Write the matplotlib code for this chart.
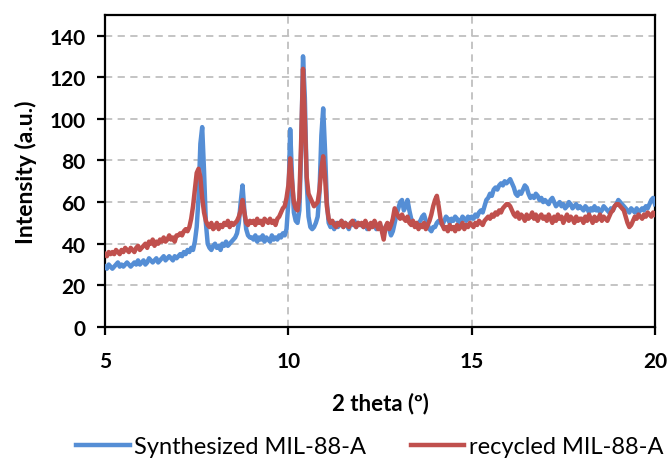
import numpy as np
import matplotlib
matplotlib.use('Agg')
import matplotlib.pyplot as plt

# 2 theta axis, 0.05 step from 5 to 20
two_theta = np.round(np.arange(5.0, 20.0001, 0.05), 2)

# Synthesized MIL-88-A intensity (a.u.)
synth = [
    29, 28, 30, 29, 28, 29, 30, 31, 29, 30, 29, 30, 31, 30, 29, 30, 31, 30, 32, 30,   # 5
    31, 32, 30, 31, 33, 32, 31, 32, 33, 31, 32, 33, 34, 32, 33, 34, 33, 32, 34, 33,   # 6
    34, 35, 34, 36, 35, 37, 36, 38, 37, 41, 48, 62, 88, 96, 75, 50, 40, 38, 37, 39,   # 7
    40, 38, 39, 37, 40, 39, 41, 39, 40, 41, 42, 43, 45, 50, 60, 68, 56, 47, 44, 43,   # 8
    43, 42, 44, 41, 43, 42, 44, 41, 43, 42, 41, 44, 42, 43, 42, 44, 43, 45, 44, 47,   # 9
    60, 95, 72, 55, 51, 50, 56, 85, 130, 110, 70, 53, 48, 47, 48, 50, 53, 65, 92, 105,  # 10
    85, 60, 50, 48, 49, 47, 50, 48, 49, 51, 48, 50, 49, 47, 50, 49, 51, 48, 50, 49,   # 11
    49, 48, 50, 47, 49, 48, 50, 49, 47, 48, 49, 47, 45, 48, 49, 47, 44, 46, 50, 54,   # 12
    57, 60, 61, 56, 58, 61, 56, 52, 50, 49, 48, 50, 51, 53, 54, 51, 49, 47, 46, 48,   # 13
    48, 50, 51, 50, 49, 51, 53, 52, 50, 52, 51, 53, 52, 50, 51, 53, 52, 51, 53, 52,   # 14
    53, 52, 54, 53, 55, 56, 55, 58, 61, 62, 64, 63, 66, 67, 66, 68, 69, 68, 70, 69,   # 15
    70, 71, 69, 67, 64, 63, 65, 64, 66, 68, 67, 64, 62, 63, 62, 64, 63, 61, 62, 60,   # 16
    61, 60, 59, 61, 62, 60, 58, 59, 60, 58, 59, 57, 58, 60, 59, 57, 58, 59, 57, 58,   # 17
    57, 56, 58, 57, 55, 57, 56, 58, 56, 57, 55, 56, 58, 57, 56, 55, 57, 56, 58, 59,   # 18
    61, 60, 59, 58, 57, 56, 55, 57, 56, 55, 57, 55, 56, 57, 56, 58, 57, 59, 61, 62, 59,  # 19-20
]

# recycled MIL-88-A intensity (a.u.)
recyc = [
    35, 34, 36, 35, 36, 35, 37, 36, 35, 37, 36, 38, 37, 36, 38, 37, 36, 38, 39, 37,   # 5
    38, 39, 40, 38, 41, 40, 42, 39, 41, 40, 42, 41, 43, 41, 42, 44, 42, 43, 41, 44,   # 6
    44, 45, 44, 46, 47, 46, 48, 52, 58, 66, 74, 76, 72, 62, 55, 51, 49, 48, 50, 47,   # 7
    48, 50, 47, 49, 48, 50, 49, 51, 48, 50, 49, 50, 51, 53, 56, 61, 55, 50, 49, 51,   # 8
    50, 51, 49, 52, 50, 51, 49, 52, 51, 50, 52, 50, 51, 49, 52, 53, 55, 57, 58, 62,   # 9
    68, 81, 70, 60, 57, 56, 62, 90, 124, 100, 72, 64, 62, 60, 58, 59, 60, 66, 76, 82,  # 10
    72, 58, 52, 50, 51, 49, 48, 50, 49, 51, 48, 50, 49, 48, 50, 51, 49, 48, 50, 49,   # 11
    50, 48, 51, 49, 47, 50, 48, 51, 49, 47, 50, 46, 42, 48, 50, 47, 49, 52, 57, 55,   # 12
    53, 52, 54, 52, 51, 53, 50, 49, 51, 48, 50, 47, 49, 48, 50, 47, 49, 51, 54, 58,   # 13
    61, 63, 58, 52, 49, 47, 48, 46, 49, 47, 48, 46, 49, 47, 48, 50, 47, 49, 48, 50,   # 14
    49, 48, 50, 49, 51, 50, 49, 51, 52, 53, 52, 54, 53, 55, 54, 56, 55, 57, 58, 59,   # 15
    59, 58, 56, 54, 53, 55, 52, 54, 53, 51, 54, 52, 53, 55, 52, 54, 51, 53, 54, 52,   # 16
    53, 51, 54, 52, 50, 53, 51, 54, 52, 53, 50, 52, 54, 51, 53, 52, 50, 53, 51, 52,   # 17
    52, 50, 53, 51, 54, 52, 50, 53, 51, 52, 54, 51, 53, 52, 51, 53, 55, 56, 58, 59,   # 18
    59, 58, 57, 56, 53, 50, 48, 49, 51, 53, 52, 54, 53, 52, 54, 53, 55, 54, 53, 55, 54,  # 19-20
]

x_ticks = [5, 10, 15, 20]
y_ticks = [0, 20, 40, 60, 80, 100, 120, 140]

plt.rcParams['font.family'] = ['Lato', 'DejaVu Sans']

fig = plt.figure(figsize=(6.72, 4.64), dpi=100)
ax = fig.add_axes([0.1563, 0.2931, 0.8184, 0.6731])

ax.plot(two_theta, synth, color='#558ED5', lw=3.2, label='Synthesized MIL-88-A',
        solid_joinstyle='round', zorder=3)
ax.plot(two_theta, recyc, color='#C0504D', lw=3.2, label='recycled MIL-88-A',
        solid_joinstyle='round', zorder=4)

ax.set_xlim(5, 20)
ax.set_ylim(0, 150)
ax.set_xticks(x_ticks)
ax.set_yticks(y_ticks)
ax.grid(True, color='#BFBFBF', ls=(0, (4, 3)), lw=1.3, zorder=0)

for s in ax.spines.values():
    s.set_linewidth(1.6)
    s.set_color('black')

ax.tick_params(axis='both', direction='out', length=6, width=1.6, labelsize=15)
ax.tick_params(axis='y', pad=8)
ax.tick_params(axis='x', pad=11)
for lab in ax.get_xticklabels() + ax.get_yticklabels():
    lab.set_fontweight('bold')

ax.set_xlabel('2 theta (º)', fontsize=16, fontweight='bold', labelpad=15)
ax.set_ylabel('Intensity (a.u.)', fontsize=16.5, fontweight='bold', labelpad=9)

fig.legend(loc='center', bbox_to_anchor=(370/672, 1-448/464), ncol=2, frameon=False,
           fontsize=17, handlelength=2.25, handletextpad=0.2, columnspacing=1.9)

plt.savefig('out.png', dpi=100)
